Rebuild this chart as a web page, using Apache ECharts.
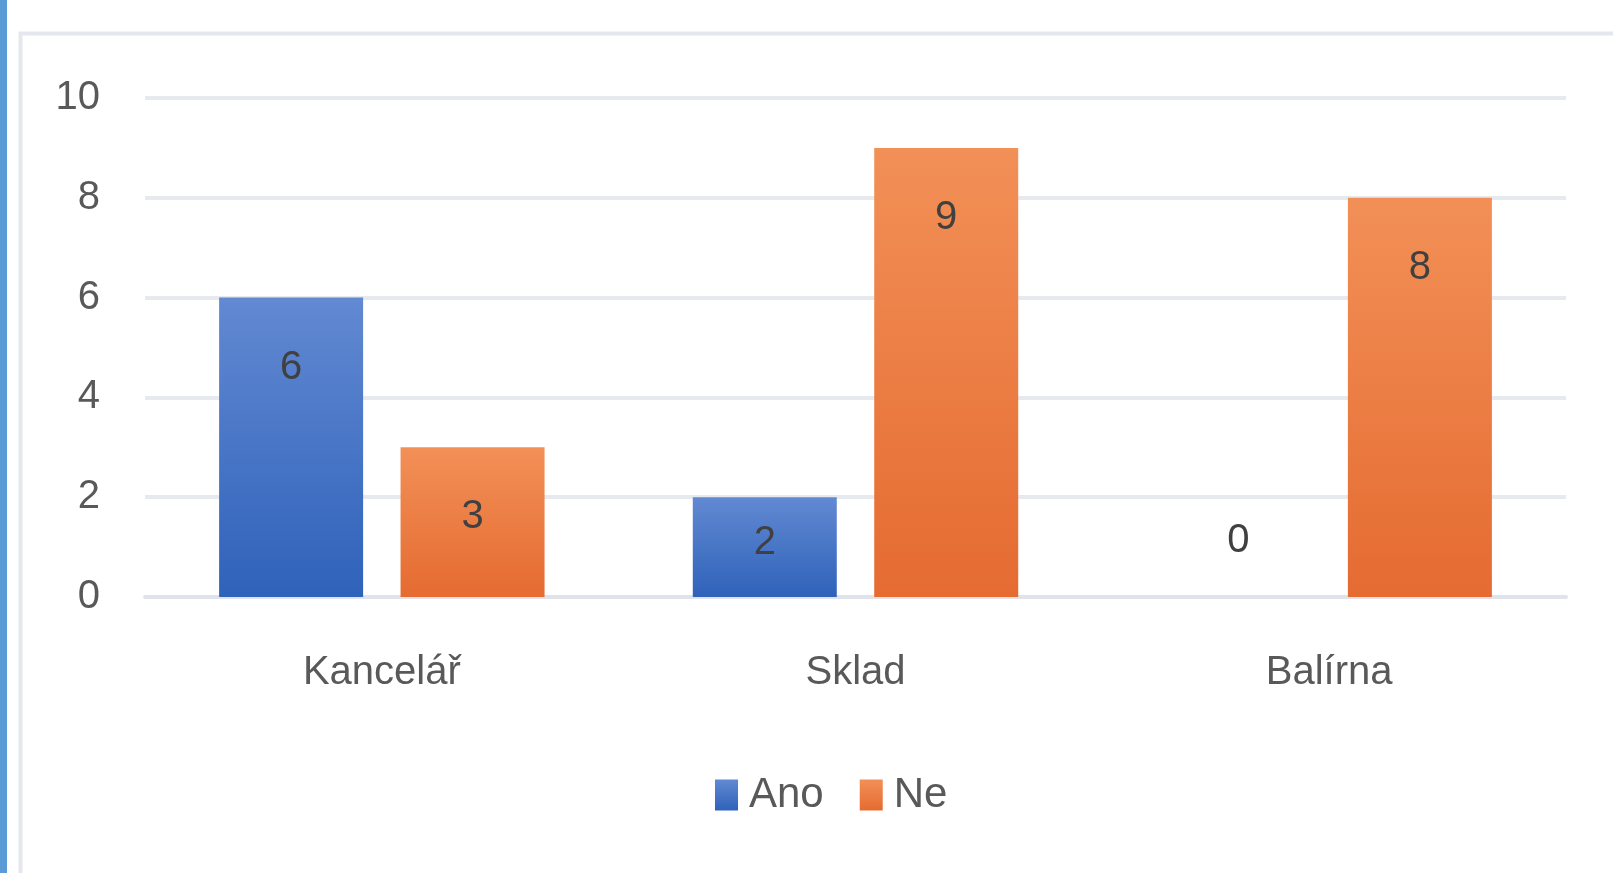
<!DOCTYPE html>
<html>
<head>
<meta charset="utf-8">
<script src="https://cdn.jsdelivr.net/npm/echarts@6/dist/echarts.min.js"></script>
<style>
html,body{margin:0;padding:0;background:#fff;}
#c{width:1613px;height:873px;}
</style>
</head>
<body>
<div id="c"></div>
<script>
var categories = ['Kancelář', 'Sklad', 'Balírna'];
var anoValues = [6, 2, 0];
var neValues = [3, 9, 8];
var seriesNames = ['Ano', 'Ne'];

var chart = echarts.init(document.getElementById('c'));
var FONT = 'Liberation Sans';

function buildData(vals) {
  return vals.map(function (v) {
    var item = { value: v };
    if (v === 0) {
      item.label = { position: 'top', distance: 36 };
    } else if (v <= 2) {
      item.label = { position: 'insideTop', distance: 26 };
    }
    return item;
  });
}

function grad(top, bottom) {
  return new echarts.graphic.LinearGradient(0, 0, 0, 1, [
    { offset: 0, color: top },
    { offset: 1, color: bottom }
  ]);
}

var labelStyle = {
  show: true,
  position: 'insideTop',
  distance: 50,
  fontFamily: FONT,
  fontSize: 40,
  color: '#404040'
};

chart.setOption({
  animation: false,
  backgroundColor: '#ffffff',
  graphic: [
    { type: 'rect', left: 0, top: 0, shape: { width: 7, height: 873 }, style: { fill: '#5b9bd5' }, z: 10 },
    { type: 'rect', left: 18, top: 31, shape: { width: 1700, height: 900 }, style: { fill: 'none', stroke: '#e4e8ee', lineWidth: 4 }, z: 10 }
  ],
  grid: { left: 145, right: 47, top: 98, bottom: 276, containLabel: false },
  legend: {
    data: seriesNames,
    bottom: 57,
    left: 715,
    itemWidth: 23,
    itemHeight: 31,
    itemGap: 36,
    icon: 'rect',
    padding: 0,
    textStyle: { fontFamily: FONT, fontSize: 42, color: '#595959', padding: [0, 0, 0, 6] }
  },
  xAxis: {
    type: 'category',
    data: categories,
    axisLine: { show: true, lineStyle: { color: '#e0e4ea', width: 4 } },
    axisTick: { show: false },
    axisLabel: { fontFamily: FONT, fontSize: 40, color: '#595959', margin: 56 }
  },
  yAxis: {
    type: 'value',
    min: 0,
    max: 10,
    interval: 2,
    axisLine: { show: false },
    axisTick: { show: false },
    axisLabel: { fontFamily: FONT, fontSize: 40, color: '#595959', margin: 45 },
    splitLine: { lineStyle: { color: '#e6e9ee', width: 4 } }
  },
  series: [
    {
      name: seriesNames[0],
      type: 'bar',
      data: buildData(anoValues),
      barWidth: 144,
      barGap: '26%',
      itemStyle: { color: grad('#6289d2', '#2f62ba') },
      label: labelStyle
    },
    {
      name: seriesNames[1],
      type: 'bar',
      data: buildData(neValues),
      barWidth: 144,
      itemStyle: { color: grad('#f29057', '#e56b31') },
      label: labelStyle
    }
  ]
});
</script>
</body>
</html>
